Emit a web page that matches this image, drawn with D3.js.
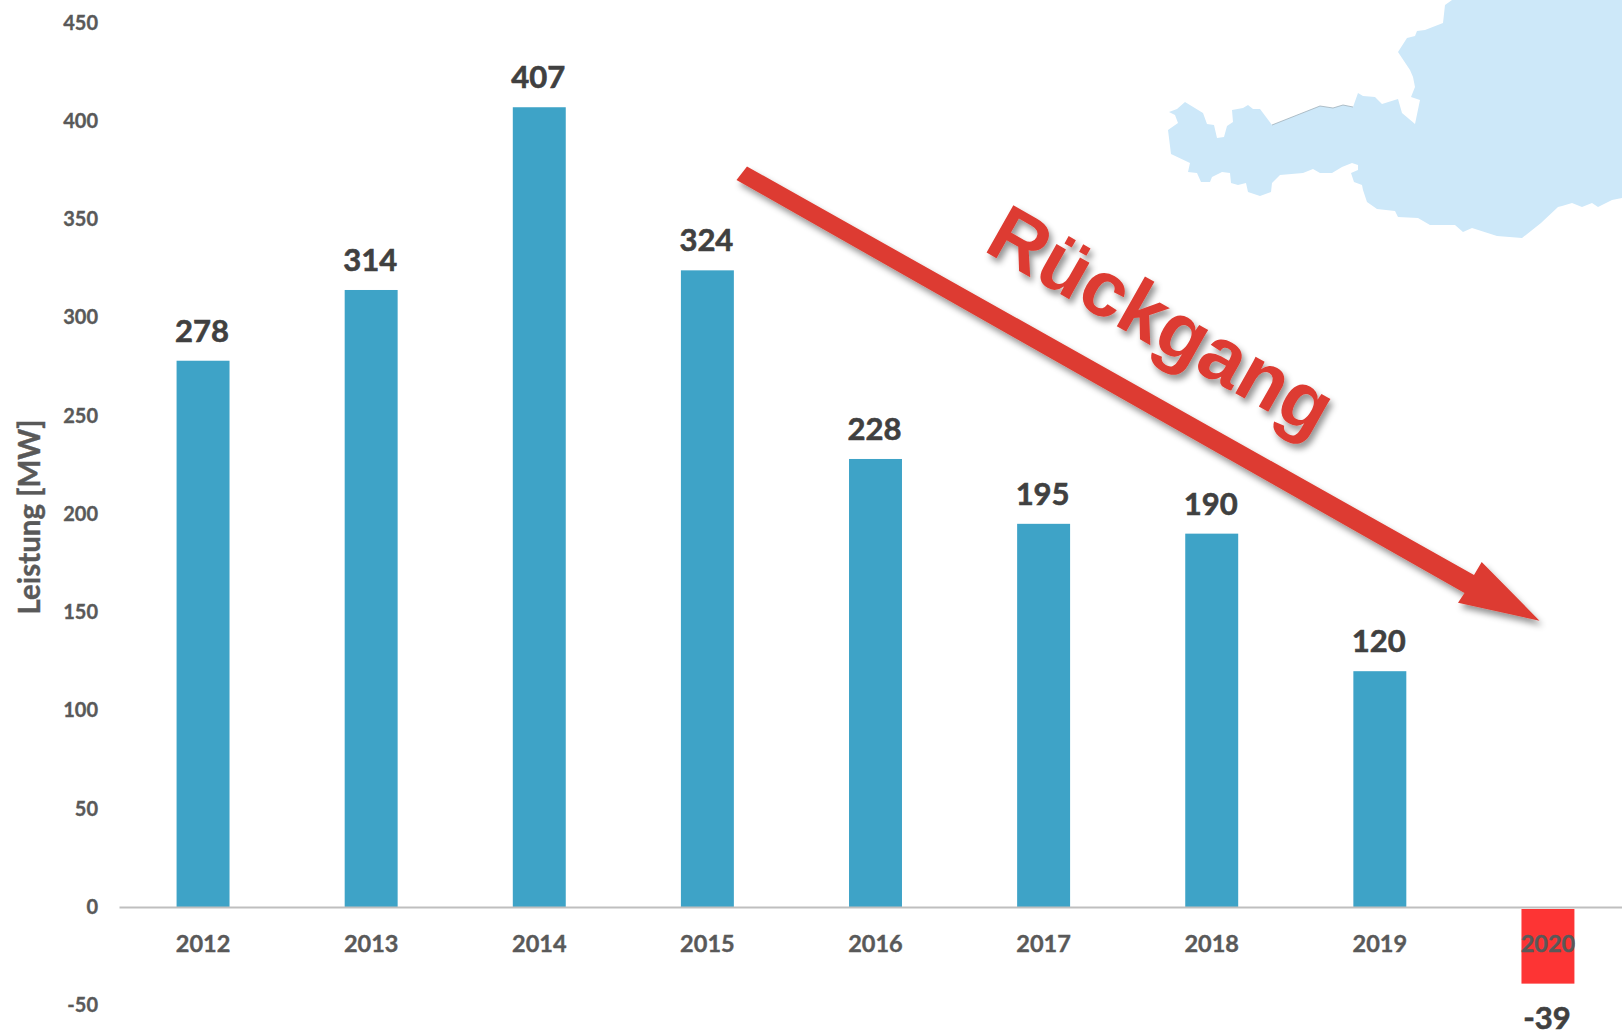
<!DOCTYPE html>
<html lang="de">
<head>
<meta charset="utf-8">
<title>Leistung [MW]</title>
<script src="https://cdn.jsdelivr.net/npm/d3@7/dist/d3.min.js"></script>
<style>
  html, body { margin: 0; padding: 0; background: #fff; overflow: hidden; }
  svg { display: block; font-family: Lato, "Open Sans", sans-serif; }
</style>
</head>
<body>
<svg id="chart" width="1622" height="1031"></svg>
<script>
// Chart data
const years = ["2012", "2013", "2014", "2015", "2016", "2017", "2018", "2019", "2020"];
const powerMW = [278, 314, 407, 324, 228, 195, 190, 120, -39];
const yTicks = [-50, 0, 50, 100, 150, 200, 250, 300, 350, 400, 450];
const yTitle = "Leistung [MW]";
const arrowLabel = "Rückgang";

// Outline of the background map, in page pixels
const mapOutline = [
  [1445,5],[1452,0],[1622,0],[1622,198],[1612,200],[1598,207],[1592,203],[1582,207],[1572,203],[1562,206],
  [1558,207],[1541,223],[1522,238],[1497,236],[1472,228],[1463,232],[1455,225],[1430,225],[1418,218],[1398,217],
  [1395,211],[1377,209],[1367,202],[1363,190],[1362,185],[1354,182],[1351,173],[1358,170],[1358,165],[1352,163],
  [1342,167],[1332,173],[1320,173],[1313,169],[1303,173],[1280,175],[1272,183],[1271,192],[1260,196],[1248,192],
  [1246,183],[1238,185],[1231,183],[1230,173],[1222,172],[1212,177],[1210,182],[1201,182],[1197,173],[1188,172],
  [1190,163],[1171,154],[1168,130],[1178,123],[1175,115],[1169,112],[1177,109],[1185,102],[1203,113],[1207,124],
  [1214,125],[1217,138],[1224,137],[1227,126],[1233,122],[1232,110],[1243,108],[1248,105],[1253,109],[1260,109],
  [1272,125],[1320,106],[1333,108],[1343,105],[1353,107],[1358,93],[1363,96],[1375,97],[1382,104],[1398,99],
  [1402,113],[1415,124],[1420,100],[1411,97],[1415,87],[1413,77],[1410,70],[1398,52],[1407,38],[1415,36],
  [1417,31],[1425,30],[1443,23]
];
// Darker rim along the northern border of the map
const mapRim = [
  [1272,125],[1320,106],[1333,108],[1343,105],[1353,107]
];

const svg = d3.select("#chart");

const defs = svg.append("defs");
defs.append("filter")
    .attr("id", "softShadow")
    .attr("x", "-10%").attr("y", "-10%").attr("width", "120%").attr("height", "130%")
  .append("feDropShadow")
    .attr("dx", 3).attr("dy", 5).attr("stdDeviation", 3)
    .attr("flood-color", "#000").attr("flood-opacity", 0.42);

const x = d3.scaleBand().domain(years).range([119, 1632]).paddingInner(0.685).paddingOuter(0.3425);
const y = d3.scaleLinear().domain([-50, 450]).range([1005.25, 22.75]);

// Background map
const outline = d3.line();
svg.append("path")
    .attr("d", outline(mapOutline) + "Z")
    .attr("fill", "#cde8f9");
svg.append("path")
    .attr("d", outline(mapRim))
    .attr("fill", "none")
    .attr("stroke", "#9fb0ba")
    .attr("stroke-width", 0.8);

// Bars; the negative bar starts just below the zero line
const negativeGap = 2;
svg.append("g")
  .selectAll("rect")
  .data(years)
  .join("rect")
    .attr("x", d => x(d))
    .attr("width", x.bandwidth())
    .attr("y", (d, i) => powerMW[i] >= 0 ? y(powerMW[i]) : y(0) + negativeGap)
    .attr("height", (d, i) => powerMW[i] >= 0 ? y(0) - y(powerMW[i]) : y(powerMW[i]) - y(0) - negativeGap)
    .attr("fill", (d, i) => powerMW[i] >= 0 ? "#3ea3c7" : "#fd3434");

// Value axis, with a plain hyphen for negative numbers
const yAxis = svg.append("g")
    .attr("transform", "translate(119,0)")
    .call(d3.axisLeft(y).tickValues(yTicks).tickFormat(d => String(d)).tickSize(0).tickPadding(21));
yAxis.select(".domain").remove();
yAxis.selectAll("text")
    .attr("font-family", "Lato, sans-serif")
    .attr("font-size", 20)
    .attr("font-weight", 700)
    .attr("fill", "#595959")
    .attr("stroke", "#595959")
    .attr("stroke-width", 0.35);

// Year axis on the zero line
const xAxis = svg.append("g")
    .attr("transform", `translate(0,${y(0)})`)
    .call(d3.axisBottom(x).tickSize(0));
xAxis.select(".domain")
    .attr("stroke", "#bfbfbf")
    .attr("stroke-width", 2);
xAxis.selectAll("text")
    .attr("y", 44.5)
    .attr("dy", 0)
    .attr("font-family", "Lato, sans-serif")
    .attr("font-size", 23.5)
    .attr("font-weight", 700)
    .attr("fill", "#595959")
    .attr("stroke", "#595959")
    .attr("stroke-width", 0.4);

// Value labels
svg.append("g")
  .selectAll("text")
  .data(years)
  .join("text")
    .attr("x", d => x(d) + x.bandwidth() / 2 - 1)
    .attr("y", (d, i) => powerMW[i] >= 0 ? y(powerMW[i]) - 19 : y(powerMW[i]) + 45)
    .attr("text-anchor", "middle")
    .attr("font-size", 31)
    .attr("font-weight", 700)
    .attr("fill", "#404040")
    .attr("stroke", "#404040")
    .attr("stroke-width", 0.6)
    .text((d, i) => powerMW[i]);

// Axis title
svg.append("text")
    .attr("transform", "translate(40,517) rotate(-90)")
    .attr("text-anchor", "middle")
    .attr("font-size", 29.5)
    .attr("font-weight", 700)
    .attr("fill", "#595959")
    .attr("stroke", "#595959")
    .attr("stroke-width", 0.4)
    .text(yTitle);

// Trend arrow with its caption
const trend = svg.append("g").attr("filter", "url(#softShadow)");
trend.append("path")
    .attr("d", "M747,166.5L1474,575L1481.7,562L1539.5,620.7L1458,602.7L1464.5,593L736.5,180Z")
    .attr("fill", "#dd3b30");
trend.append("text")
    .attr("transform", "translate(982,250) rotate(29.5)")
    .attr("font-family", "'Liberation Sans', Arial, sans-serif")
    .attr("font-size", 79)
    .attr("font-weight", 700)
    .attr("fill", "#dd3b30")
    .text(arrowLabel);
</script>
</body>
</html>
